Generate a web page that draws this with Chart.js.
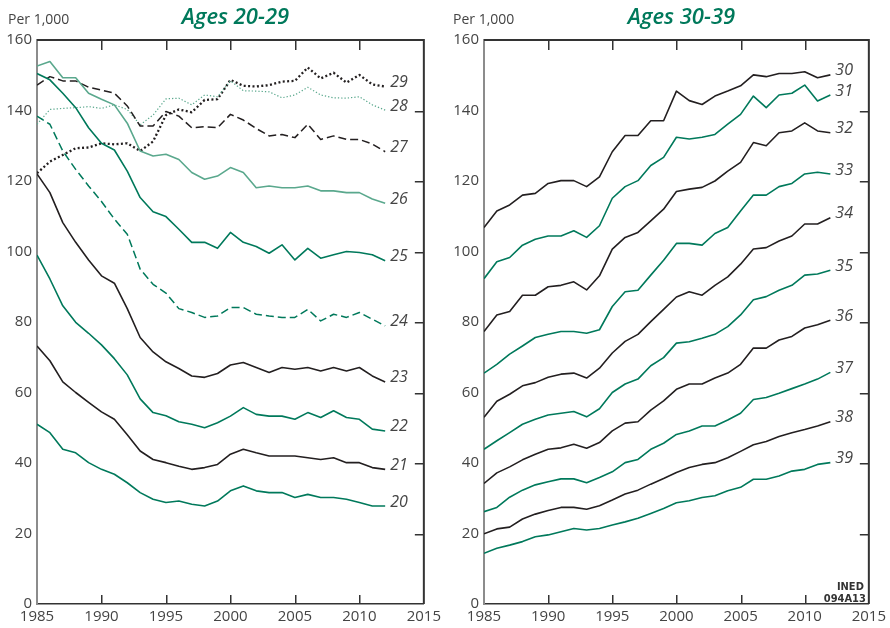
<!DOCTYPE html>
<html>
<head>
<meta charset="utf-8">
<script src="https://cdn.jsdelivr.net/npm/chart.js@4.4.1/dist/chart.umd.min.js"></script>
<style>
  html, body { margin: 0; padding: 0; background: #fff; }
  #wrap { position: relative; width: 890px; height: 628px; }
  canvas { position: absolute; top: 0; }
  #left { left: 0; }
  #right { left: 445px; }
</style>
</head>
<body>
<div id="wrap">
  <canvas id="left" width="445" height="628"></canvas>
  <canvas id="right" width="445" height="628"></canvas>
</div>
<script>
// Survey years
const years = [1985, 1986, 1987, 1988, 1989, 1990, 1991, 1992, 1993, 1994,
  1995, 1996, 1997, 1998, 1999, 2000, 2001, 2002, 2003, 2004,
  2005, 2006, 2007, 2008, 2009, 2010, 2011, 2012];

// Axis ticks
const xTicks = [1985, 1990, 1995, 2000, 2005, 2010, 2015];
const yTicks = [0, 20, 40, 60, 80, 100, 120, 140, 160];

// Rates per 1,000, ages 20-29
const age20 = [51.0, 48.6, 43.9, 42.9, 40.1, 38.2, 36.8, 34.4, 31.6, 29.7, 28.8, 29.2, 28.3, 27.8, 29.2, 32.1, 33.5, 32.1, 31.6, 31.6, 30.2, 31.1, 30.2, 30.2, 29.7, 28.8, 27.8, 27.8];
const age21 = [73.2, 69.0, 63.0, 60.0, 57.2, 54.5, 52.4, 48.0, 43.4, 41.0, 40.1, 39.1, 38.2, 38.7, 39.6, 42.5, 43.9, 42.9, 42.0, 42.0, 42.0, 41.5, 41.0, 41.5, 40.1, 40.1, 38.7, 38.2];
const age22 = [99.0, 92.2, 84.6, 79.9, 76.8, 73.5, 69.6, 65.0, 58.2, 54.3, 53.4, 51.7, 51.0, 50.0, 51.4, 53.3, 55.7, 53.8, 53.3, 53.3, 52.4, 54.3, 52.9, 54.8, 52.9, 52.4, 49.6, 49.1];
const age23 = [122.0, 116.7, 108.2, 102.6, 97.6, 93.1, 91.0, 83.8, 75.6, 71.5, 68.7, 66.8, 64.7, 64.3, 65.4, 67.8, 68.5, 67.1, 65.7, 67.1, 66.6, 67.1, 66.1, 67.1, 66.1, 67.1, 64.7, 63.0];
const age24 = [138.4, 136.1, 128.5, 123.3, 118.6, 114.2, 109.2, 104.9, 95.0, 90.7, 88.2, 83.8, 82.7, 81.3, 81.7, 84.1, 84.1, 82.2, 81.7, 81.3, 81.3, 83.6, 80.3, 82.2, 81.3, 82.7, 80.8, 78.9];
const age25 = [150.5, 148.7, 144.9, 140.8, 135.1, 130.7, 128.8, 122.8, 115.3, 111.3, 109.9, 106.3, 102.6, 102.6, 100.9, 105.4, 102.6, 101.4, 99.5, 101.9, 97.6, 100.9, 98.1, 99.1, 100.0, 99.7, 99.1, 97.4];
const age26 = [152.6, 153.9, 149.3, 149.3, 144.9, 143.2, 141.6, 136.4, 128.5, 127.1, 127.6, 126.1, 122.4, 120.5, 121.4, 123.8, 122.4, 118.1, 118.6, 118.1, 118.1, 118.6, 117.2, 117.2, 116.7, 116.7, 114.9, 113.7];
const age27 = [147.2, 149.6, 148.4, 148.4, 146.6, 145.8, 144.9, 141.3, 135.6, 135.6, 139.7, 138.4, 135.1, 135.4, 135.1, 138.9, 137.3, 134.9, 132.8, 133.2, 132.3, 136.1, 131.8, 132.8, 131.8, 131.8, 130.5, 128.3];
const age28 = [136.1, 140.3, 140.6, 140.8, 141.1, 140.6, 141.6, 140.3, 135.9, 138.7, 143.3, 143.5, 141.6, 144.4, 143.9, 148.4, 145.6, 145.5, 145.3, 143.6, 144.4, 146.6, 144.4, 143.6, 143.5, 143.9, 141.6, 140.1];
const age29 = [122.2, 125.5, 127.4, 129.3, 129.5, 130.7, 130.4, 130.7, 128.5, 131.2, 138.7, 140.3, 139.5, 143.0, 143.2, 148.7, 147.0, 146.8, 147.2, 148.2, 148.4, 152.2, 149.1, 150.7, 147.9, 150.1, 147.4, 146.8];

// Rates per 1,000, ages 30-39
const age30 = [106.8, 111.5, 113.2, 116.0, 116.5, 119.3, 120.1, 120.1, 118.4, 121.2, 128.3, 132.9, 132.9, 137.1, 137.1, 145.5, 142.8, 141.7, 144.1, 145.5, 147.0, 150.1, 149.6, 150.5, 150.5, 151.0, 149.3, 150.1];
const age31 = [92.3, 97.1, 98.3, 101.8, 103.5, 104.4, 104.4, 105.9, 104.0, 107.3, 115.1, 118.4, 120.1, 124.4, 126.7, 132.4, 131.9, 132.4, 133.2, 136.1, 138.9, 144.1, 140.8, 144.4, 144.9, 147.2, 142.7, 144.4];
const age32 = [77.3, 82.0, 83.0, 87.6, 87.6, 90.0, 90.4, 91.4, 89.1, 93.1, 100.7, 104.0, 105.4, 108.7, 112.0, 117.0, 117.7, 118.2, 120.0, 122.8, 125.3, 130.9, 130.0, 133.7, 134.2, 136.5, 134.2, 133.7];
const age33 = [65.5, 68.0, 70.9, 73.2, 75.6, 76.5, 77.3, 77.3, 76.8, 77.8, 84.4, 88.6, 89.0, 93.3, 97.5, 102.3, 102.3, 101.8, 105.1, 106.8, 111.5, 116.0, 116.0, 118.4, 119.3, 122.0, 122.5, 122.0];
const age34 = [53.0, 57.5, 59.5, 61.9, 62.8, 64.3, 65.2, 65.5, 64.1, 66.9, 71.2, 74.5, 76.5, 80.1, 83.6, 87.1, 88.6, 87.6, 90.4, 92.8, 96.4, 100.7, 101.1, 103.0, 104.4, 107.8, 107.8, 109.6];
const age35 = [43.9, 46.3, 48.6, 51.0, 52.4, 53.6, 54.1, 54.6, 53.1, 55.4, 60.0, 62.4, 63.8, 67.6, 69.9, 74.0, 74.4, 75.4, 76.5, 78.7, 82.0, 86.3, 87.2, 89.0, 90.4, 93.3, 93.6, 94.7];
const age36 = [34.2, 37.2, 38.9, 40.9, 42.5, 43.9, 44.3, 45.3, 44.2, 45.8, 49.1, 51.3, 51.7, 55.0, 57.6, 60.9, 62.4, 62.4, 64.1, 65.5, 68.0, 72.6, 72.6, 74.9, 75.9, 78.3, 79.2, 80.5];
const age37 = [26.2, 27.4, 30.3, 32.3, 33.8, 34.7, 35.5, 35.5, 34.4, 35.9, 37.5, 40.1, 41.0, 43.9, 45.6, 48.1, 49.1, 50.5, 50.5, 52.2, 54.1, 58.0, 58.6, 59.8, 61.1, 62.4, 63.8, 65.7];
const age38 = [19.9, 21.3, 21.8, 24.1, 25.5, 26.5, 27.4, 27.4, 26.9, 27.9, 29.5, 31.2, 32.3, 34.0, 35.6, 37.3, 38.7, 39.6, 40.1, 41.5, 43.3, 45.2, 46.1, 47.5, 48.6, 49.5, 50.5, 51.7];
const age39 = [14.4, 15.8, 16.7, 17.7, 19.1, 19.6, 20.5, 21.4, 21.0, 21.4, 22.4, 23.3, 24.3, 25.7, 27.1, 28.7, 29.3, 30.2, 30.7, 32.1, 33.1, 35.4, 35.4, 36.3, 37.7, 38.2, 39.6, 40.1];

// Palette and line styles
const GREEN = '#00795b';
const LIGHT_GREEN = '#5aa88d';
const BLACK = '#231f20';
const TEXT = '#444444';
const FONT = "'Open Sans', 'Noto Sans', sans-serif";

const styles = {
  solidBlack:  { color: BLACK, width: 1.6, dash: [] },
  solidGreen:  { color: GREEN, width: 1.6, dash: [] },
  solidLight:  { color: LIGHT_GREEN, width: 1.6, dash: [] },
  dashBlack:   { color: BLACK, width: 1.5, dash: [8, 4] },
  dashGreen:   { color: GREEN, width: 1.5, dash: [8, 4] },
  dotBlack:    { color: BLACK, width: 2.3, dash: [2, 2.4] },
  dotLight:    { color: LIGHT_GREEN, width: 1.2, dash: [1.3, 2] }
};

function series(label, values, style) {
  const s = styles[style];
  return {
    label: label,
    data: values.map((v, i) => ({ x: years[i], y: v })),
    borderColor: s.color,
    borderWidth: s.width,
    borderDash: s.dash,
    borderCapStyle: 'butt',
    borderJoinStyle: 'round',
    pointRadius: 0,
    tension: 0,
    fill: false
  };
}

// Top/right frame with inward tick marks, drawn under the lines
const framePlugin = {
  id: 'frame',
  beforeDatasetsDraw(chart) {
    const ctx = chart.ctx;
    const a = chart.chartArea;
    const xs = chart.scales.x, ys = chart.scales.y;
    ctx.save();
    ctx.fillStyle = '#333333';
    ctx.fillRect(a.left, a.top - 1, a.right - a.left, 2);
    ctx.fillRect(a.right - 1, a.top - 1, 2, a.bottom - a.top + 1);
    xTicks.slice(1, -1).forEach(t => {
      const px = Math.round(xs.getPixelForValue(t));
      ctx.fillRect(px, a.top, 1.5, 10);
      ctx.fillRect(px, a.bottom - 9, 1.5, 9);
    });
    yTicks.slice(1, -1).forEach(t => {
      const py = Math.round(ys.getPixelForValue(t));
      ctx.fillRect(a.right - 9, py, 9, 1.5);
    });
    ctx.restore();
  }
};

// Titles and end-of-line age labels
const decorPlugin = {
  id: 'decor',
  afterDraw(chart, args, opts) {
    const ctx = chart.ctx;
    const a = chart.chartArea;
    ctx.save();

    ctx.font = 'italic 16px ' + FONT;
    ctx.fillStyle = TEXT;
    ctx.textAlign = 'left';
    ctx.textBaseline = 'middle';
    chart.data.datasets.forEach((ds, i) => {
      const pts = chart.getDatasetMeta(i).data;
      const p = pts[pts.length - 1];
      ctx.fillText(ds.label, p.x + 5, p.y - 4);
    });

    ctx.font = '14px ' + FONT;
    ctx.textBaseline = 'alphabetic';
    ctx.fillText('Per 1,000', opts.unitX, 24);

    ctx.font = 'italic 600 22px ' + FONT;
    ctx.fillStyle = GREEN;
    ctx.textAlign = 'center';
    ctx.fillText(opts.title, (a.left + a.right) / 2 + 5, 24);

    if (opts.credit) {
      ctx.font = "bold 11px 'Liberation Sans Narrow', 'DejaVu Sans Condensed', sans-serif";
      ctx.fillStyle = '#333';
      ctx.textAlign = 'right';
      ctx.fillText('INED', a.right - 5, 590);
      ctx.fillText('094A13', a.right - 3, 602);
    }
    ctx.restore();
  }
};

function makeChart(canvasId, datasets, axisWidth, rightPad, title, credit) {
  return new Chart(document.getElementById(canvasId), {
    type: 'line',
    data: { datasets: datasets },
    options: {
      responsive: false,
      animation: false,
      devicePixelRatio: 1,
      layout: { padding: { top: 40, right: rightPad, left: 0, bottom: 0 } },
      plugins: {
        legend: { display: false },
        tooltip: { enabled: false },
        decor: { title: title, unitX: 8, credit: credit }
      },
      scales: {
        x: {
          type: 'linear',
          min: 1985, max: 2015,
          afterFit: s => { s.height = 24; },
          afterBuildTicks: s => { s.ticks = xTicks.map(v => ({ value: v })); },
          ticks: {
            autoSkip: false, maxRotation: 0, padding: 4,
            color: TEXT, font: { family: FONT, size: 15 },
            callback: v => String(v)
          },
          grid: { display: false, drawTicks: false },
          border: { display: true, color: '#333', width: 1.5 }
        },
        y: {
          min: 0, max: 160,
          afterFit: s => { s.width = axisWidth; },
          afterBuildTicks: s => { s.ticks = yTicks.map(v => ({ value: v })); },
          ticks: {
            padding: 5, color: TEXT, font: { family: FONT, size: 15 },
            callback: v => String(v)
          },
          grid: { display: false, drawTicks: false },
          border: { display: true, color: '#8c8c8c', width: 2 }
        }
      }
    },
    plugins: [framePlugin, decorPlugin]
  });
}

makeChart('left', [
  series('20', age20, 'solidGreen'),
  series('21', age21, 'solidBlack'),
  series('22', age22, 'solidGreen'),
  series('23', age23, 'solidBlack'),
  series('24', age24, 'dashGreen'),
  series('25', age25, 'solidGreen'),
  series('26', age26, 'solidLight'),
  series('27', age27, 'dashBlack'),
  series('28', age28, 'dotLight'),
  series('29', age29, 'dotBlack')
], 37, 21, 'Ages 20-29', false);

makeChart('right', [
  series('30', age30, 'solidBlack'),
  series('31', age31, 'solidGreen'),
  series('32', age32, 'solidBlack'),
  series('33', age33, 'solidGreen'),
  series('34', age34, 'solidBlack'),
  series('35', age35, 'solidGreen'),
  series('36', age36, 'solidBlack'),
  series('37', age37, 'solidGreen'),
  series('38', age38, 'solidBlack'),
  series('39', age39, 'solidGreen')
], 39, 19, 'Ages 30-39', true);
</script>
</body>
</html>
